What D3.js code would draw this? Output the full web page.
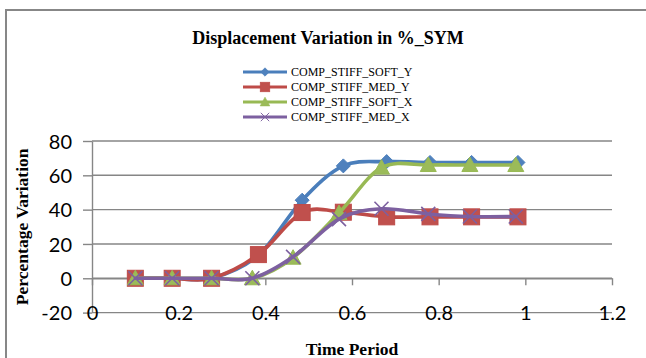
<!DOCTYPE html>
<html>
<head>
<meta charset="utf-8">
<script src="https://cdn.jsdelivr.net/npm/d3@7/dist/d3.min.js"></script>
<style>
  body { margin: 0; background: #fff; }
  svg { display: block; }
</style>
</head>
<body>
<svg id="chart" width="646" height="358"></svg>
<script>
// Time instants (Y-direction and X-direction runs are sampled slightly differently)
const timeY = [0.1, 0.185, 0.276, 0.384, 0.485, 0.58, 0.68, 0.78, 0.876, 0.983];
const timeX = [0.1, 0.185, 0.276, 0.37, 0.464, 0.57, 0.668, 0.776, 0.872, 0.978];

// Percentage variation of displacement
const compStiffSoftY = [0, 0, 0, 13.5, 45.5, 65.5, 68, 67.5, 67.5, 67.5];
const compStiffMedY  = [0, 0, 0, 13.8, 38.3, 38.5, 35.8, 35.8, 35.8, 35.8];
const compStiffSoftX = [0, 0, 0, 0, 12, 38, 64.5, 66, 66, 66];
const compStiffMedX  = [0, 0, 0, 0, 12.5, 34.5, 40.5, 37.5, 36, 36];

const seriesNames = ["COMP_STIFF_SOFT_Y", "COMP_STIFF_MED_Y", "COMP_STIFF_SOFT_X", "COMP_STIFF_MED_X"];
const xTickValues = [0, 0.2, 0.4, 0.6, 0.8, 1, 1.2];
const yTickValues = [-20, 0, 20, 40, 60, 80];

const series = [
  { name: seriesNames[0], t: timeY, v: compStiffSoftY, line: "#4A7EBB", fill: "#4F81BD", marker: "diamond" },
  { name: seriesNames[1], t: timeY, v: compStiffMedY,  line: "#BE4B48", fill: "#C0504D", marker: "square" },
  { name: seriesNames[2], t: timeX, v: compStiffSoftX, line: "#98B954", fill: "#9BBB59", marker: "triangle" },
  { name: seriesNames[3], t: timeX, v: compStiffMedX,  line: "#7D60A0", fill: "#8064A2", marker: "cross" }
];

const svg = d3.select("#chart");
const gridColor = "#868686";
const labelFont = "Lato, 'Open Sans', sans-serif";
const serifFont = "'Liberation Serif', 'Times New Roman', serif";

// Chart frame
svg.append("rect")
  .attr("x", 6).attr("y", 10)
  .attr("width", 680).attr("height", 380)
  .attr("fill", "#fff")
  .attr("stroke", "#878787")
  .attr("stroke-width", 2);

const x = d3.scaleLinear().domain([0, 1.2]).range([92, 612]);
const y = d3.scaleLinear().domain([-20, 80]).range([312.6, 141]);

// Horizontal gridlines
svg.append("g")
  .selectAll("line")
  .data(yTickValues)
  .join("line")
  .attr("x1", x(0)).attr("x2", x(1.2))
  .attr("y1", d => y(d)).attr("y2", d => y(d))
  .attr("stroke", gridColor)
  .attr("stroke-width", 1.4);

// Vertical axis with labels
const yAxis = svg.append("g")
  .attr("transform", `translate(${x(0)},0)`)
  .call(d3.axisLeft(y).tickValues(yTickValues).tickSize(9).tickSizeOuter(0).tickPadding(11).tickFormat(d => d));
yAxis.select(".domain").attr("stroke", gridColor).attr("stroke-width", 1.4);
yAxis.selectAll(".tick line").attr("stroke", gridColor).attr("stroke-width", 1.4);
yAxis.selectAll(".tick text")
  .attr("font-family", labelFont).attr("font-size", 20).attr("fill", "#000")
  .attr("dy", "0.36em");

// Horizontal axis line crossing at zero, ticks pointing down
const xAxisLine = svg.append("g")
  .attr("transform", `translate(0,${y(0)})`)
  .call(d3.axisBottom(x).tickValues(xTickValues).tickSize(7).tickSizeOuter(0).tickFormat(""));
xAxisLine.select(".domain").attr("stroke", gridColor).attr("stroke-width", 1.4);
xAxisLine.selectAll(".tick line").attr("stroke", gridColor).attr("stroke-width", 1.4);

// Horizontal axis labels at the bottom of the plot
const xLabels = svg.append("g")
  .attr("transform", `translate(0,${y(-20)})`)
  .call(d3.axisBottom(x).tickValues(xTickValues).tickSize(0).tickPadding(0).tickFormat(d => d));
xLabels.select(".domain").remove();
xLabels.selectAll(".tick text")
  .attr("font-family", labelFont).attr("font-size", 20).attr("fill", "#000")
  .attr("y", 0).attr("dy", "0.36em");

// Marker shapes
function drawMarker(g, kind, fill, stroke) {
  if (kind === "diamond") {
    g.append("path").attr("d", "M0,-7L7,0L0,7L-7,0Z").attr("fill", fill).attr("stroke", stroke).attr("stroke-width", 1);
  } else if (kind === "square") {
    g.append("rect").attr("x", -8).attr("y", -8).attr("width", 16).attr("height", 16)
      .attr("fill", fill).attr("stroke", stroke).attr("stroke-width", 1);
  } else if (kind === "triangle") {
    g.append("path").attr("d", "M0,-8L8,6.5L-8,6.5Z").attr("fill", fill).attr("stroke", stroke).attr("stroke-width", 1);
  } else {
    g.append("path").attr("d", "M-7,-7L7,7M-7,7L7,-7").attr("fill", "none").attr("stroke", stroke).attr("stroke-width", 1.6);
  }
}

const line = d3.line()
  .x(d => x(d[0]))
  .y(d => y(d[1]))
  .curve(d3.curveCardinal.tension(0));

// Series, drawn in order so later ones sit on top
series.forEach(s => {
  const pts = s.t.map((t, i) => [t, s.v[i]]);
  const g = svg.append("g");
  g.append("path")
    .datum(pts)
    .attr("d", line)
    .attr("fill", "none")
    .attr("stroke", s.line)
    .attr("stroke-width", 3.6)
    .attr("stroke-linejoin", "round")
    .attr("stroke-linecap", "round");
  g.selectAll("g.mk")
    .data(pts)
    .join("g")
    .attr("class", "mk")
    .attr("transform", d => `translate(${x(d[0])},${y(d[1])})`)
    .each(function () { drawMarker(d3.select(this), s.marker, s.fill, s.line); });
});

// Title
svg.append("text")
  .attr("x", 328).attr("y", 44)
  .attr("text-anchor", "middle")
  .attr("font-family", serifFont).attr("font-weight", "bold").attr("font-size", 18)
  .text("Displacement Variation in %_SYM");

// Legend
const legend = svg.append("g");
series.forEach((s, i) => {
  const ly = 72 + i * 15;
  const row = legend.append("g");
  row.append("line")
    .attr("x1", 243).attr("x2", 287).attr("y1", ly).attr("y2", ly)
    .attr("stroke", s.line).attr("stroke-width", 3.2);
  const m = row.append("g").attr("transform", `translate(265,${ly}) scale(0.6)`);
  drawMarker(m, s.marker, s.fill, s.line);
  row.append("text")
    .attr("x", 291).attr("y", ly).attr("dy", "0.35em")
    .attr("font-family", serifFont).attr("font-size", 12)
    .text(s.name);
});

// Axis titles
svg.append("text")
  .attr("transform", `translate(28,${(y(-20) + y(80)) / 2}) rotate(-90)`)
  .attr("text-anchor", "middle")
  .attr("font-family", serifFont).attr("font-weight", "bold").attr("font-size", 17.5)
  .text("Percentage Variation");

svg.append("text")
  .attr("x", (x(0) + x(1.2)) / 2).attr("y", 355)
  .attr("text-anchor", "middle")
  .attr("font-family", serifFont).attr("font-weight", "bold").attr("font-size", 17.5)
  .text("Time Period");
</script>
</body>
</html>
